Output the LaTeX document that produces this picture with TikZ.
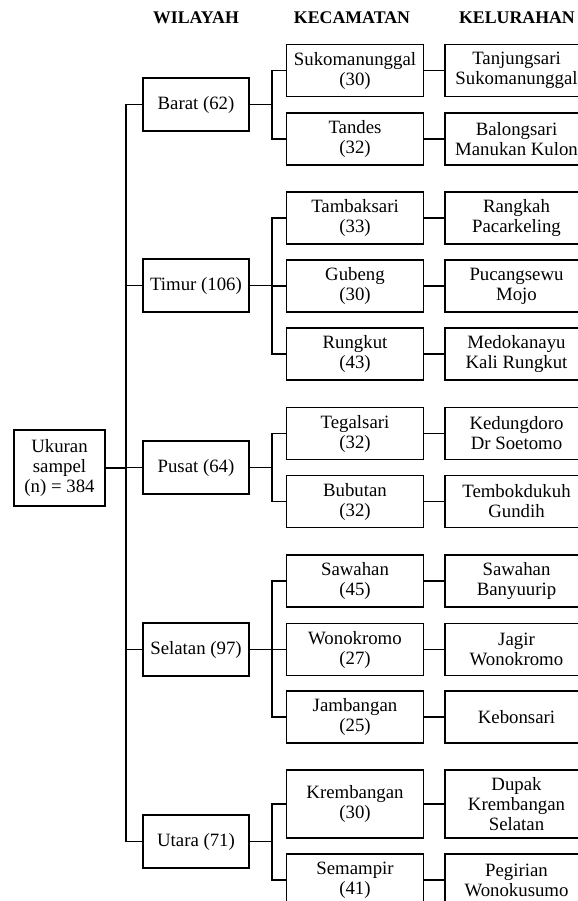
\documentclass[tikz,border=0pt]{standalone}
\usepackage{fontspec}
\setmainfont{Liberation Serif}
\begin{document}
\begin{tikzpicture}[x=0.5pt, y=-0.5pt, line width=0.9pt]

    \tikzset{%
    every box/.style={
        draw,
        align=center,
        inner sep=0pt,
        font=\fontsize{9.4}{10}\selectfont
        },
    box wil/.style={minimum width=53pt, minimum height=26.5pt},
    box kec/.style={minimum width=68.5pt},
    box kel/.style={minimum width=71.5pt},
    head/.style={anchor=base, font=\fontsize{8.9}{10}\selectfont\bfseries},
    }

    \useasboundingbox (0,0) rectangle (578,901);
    \clip (0,0) rectangle (578,901);

    % Column headers
    \foreach \t/\x in {WILAYAH/196, KECAMATAN/352, KELURAHAN/517}
    \node [head] (head-\t) at (\x,23) {\t};

    % Sample size box
    \node [every box, minimum width=45.5pt, minimum height=38pt] (ukuran) at (59.5,468) {Ukuran\\sampel\\(n) = 384};

    % Wilayah boxes and trunk line
    \foreach \w/\n/\y [count=\g] in {Barat/62/104.5, Timur/106/285.5, Pusat/64/467.5, Selatan/97/649.5, Utara/71/841.5}
    {
    \node [every box, box wil] (wil-\g) at (196,\y) {\w{} (\n)};
    \draw (wil-\g.west) -- ++(-16,0) |- (ukuran.east);
    }

    % Kecamatan and Kelurahan boxes
    \foreach \k/\n/\l/\y/\h/\g [count=\i] in {
        Sukomanunggal/30/{Tanjungsari\\Sukomanunggal}/70.5/26/1,
        Tandes/32/{Balongsari\\Manukan Kulon}/139/26/1,
        Tambaksari/33/{Rangkah\\Pacarkeling}/218/26/2,
        Gubeng/30/{Pucangsewu\\Mojo}/286/26/2,
        Rungkut/43/{Medokanayu\\Kali Rungkut}/354/26/2,
        Tegalsari/32/{Kedungdoro\\Dr Soetomo}/433.5/26/3,
        Bubutan/32/{Tembokdukuh\\Gundih}/501.5/26/3,
        Sawahan/45/{Sawahan\\Banyuurip}/581/26/4,
        Wonokromo/27/{Jagir\\Wonokromo}/649.5/26/4,
        Jambangan/25/{Kebonsari}/717/26/4,
        Krembangan/30/{Dupak\\Krembangan\\Selatan}/804/34/5,
        Semampir/41/{Pegirian\\Wonokusumo}/880/26/5}
    {
    \node [every box, box kec, minimum height=\h pt] (kec-\i) at (355,\y) {\k\\(\n)};
    \node [every box, box kel, minimum height=\h pt] (kel-\i) at (516.5,\y) {\l};
    \draw (kec-\i.west) -- ++(-14,0) |- (wil-\g.east);
    \draw (kec-\i.east) -- (kel-\i.west);
    }

\end{tikzpicture}
\end{document}
